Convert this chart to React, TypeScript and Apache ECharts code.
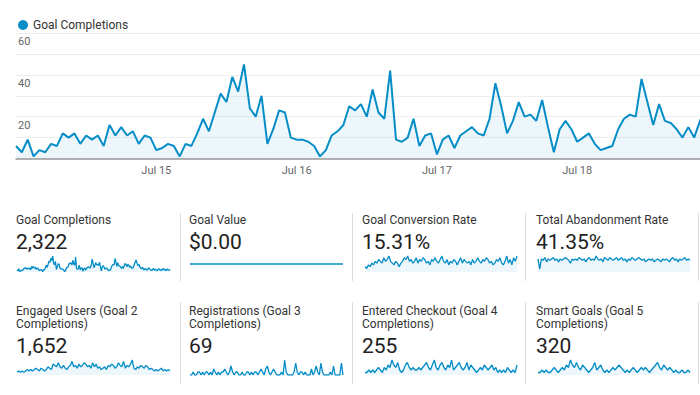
import React, { useEffect, useRef } from "react";
import * as echarts from "echarts";

// ---------- DATA ----------
const days = ["Jul 14", "Jul 15", "Jul 16", "Jul 17", "Jul 18", "Jul 19", "Jul 20"];
const hours = ["00", "01", "02", "03", "04", "05", "06", "07", "08", "09", "10", "11",
  "12", "13", "14", "15", "16", "17", "18", "19", "20", "21", "22", "23"];

// Goal completions per hour (visible part of main chart)
const goalCompletionsA = [6, 3, 9, 1, 4, 3, 7, 6, 12, 10, 12, 7, 11, 9, 11, 6, 16, 11, 15, 11, 13, 7, 11, 10,
  4, 5, 7, 6, 1, 7, 6, 12, 19, 13, 22, 31, 27, 39, 32, 45, 24, 20, 30, 7, 14, 23, 22, 10,
  9, 9, 8, 6, 1, 4, 11, 13, 16, 25];
const goalCompletionsB = [23, 26, 20, 33, 22, 19, 42, 9, 8, 10, 19, 6, 11, 12, 2, 9, 11, 5, 11, 13, 15, 12, 11, 19,
  36, 25, 12, 18, 27, 20, 21, 18, 28, 15, 3, 14, 18, 14, 8, 10, 12, 7, 4, 5, 6, 14, 19, 21,
  20, 38, 27, 16, 26, 18, 17, 14, 10, 15, 10, 18];
// remainder of the period (outside the visible crop, seen in the sparkline)
const goalCompletionsC = [24, 20, 15, 22, 19, 13, 17, 12, 10, 14, 21, 28, 34, 25, 18, 22, 15, 11, 9, 13, 8, 6, 10, 7,
  5, 9, 12, 8, 6, 4, 7, 10, 5, 8, 6, 3, 7, 9, 5, 4, 8, 6, 10, 5, 7, 4, 9, 6, 5, 8];

const yTickLabels = [20, 40, 60];
const xTickDays = ["Jul 15", "Jul 16", "Jul 17", "Jul 18"];

const goalValueSpark = [0, 0, 0, 0, 0, 0, 0, 0, 0, 0, 0, 0, 0, 0, 0, 0, 0, 0, 0, 0];
const conversionSpark = [3, 2, 4, 3, 5, 4, 6, 5, 7, 6, 5, 8, 6, 7, 9, 6, 5, 4, 6, 5, 3, 5, 6, 8, 7, 9, 6, 7, 5, 6,
  8, 5, 7, 6, 8, 7, 5, 6, 4, 7, 6, 8, 6, 5, 7, 9, 6, 5, 7, 4, 6, 5, 7, 6, 4, 6, 8, 5, 7, 6,
  5, 6, 4, 7, 5, 6, 8, 6, 5, 7, 6, 8, 7, 5, 6, 4, 5, 7, 6, 8, 5, 4, 6, 9, 5, 7, 4, 8, 6, 9];
const abandonmentSpark = [9, 2, 9, 8, 10, 7, 9, 8, 9, 10, 8, 9, 7, 9, 8, 9, 10, 9, 8, 6, 9, 8, 9, 8, 10, 9, 8, 9, 7, 9,
  10, 8, 9, 8, 11, 9, 8, 9, 7, 10, 9, 8, 10, 9, 8, 9, 10, 8, 9, 10, 8, 9, 7, 9, 8, 10, 9, 8, 9, 10,
  9, 8, 9, 7, 8, 9, 8, 9, 7, 8, 9, 8, 7, 9, 8, 9, 8, 7, 9, 10, 8, 9, 7, 9, 8, 9, 10, 8, 9, 8];
const engagedSpark = [2, 3, 2, 3, 2, 3, 4, 3, 4, 3, 4, 5, 4, 3, 5, 4, 3, 4, 6, 5, 4, 8, 7, 6, 9, 6, 5, 7, 5, 4,
  6, 7, 10, 6, 7, 5, 8, 6, 7, 9, 8, 6, 7, 5, 9, 6, 8, 5, 6, 4, 5, 6, 4, 7, 6, 8, 7, 5, 6, 9,
  7, 6, 10, 5, 7, 6, 8, 11, 5, 4, 6, 5, 7, 6, 5, 7, 6, 4, 5, 4, 3, 4, 3, 4, 5, 3, 4, 3, 4, 3];
const registrationsSpark = [0, 0, 1, 0, 0, 1, 1, 0, 1, 0, 1, 1, 0, 1, 0, 2, 1, 0, 1, 0, 1, 1, 2, 1, 0, 1, 3, 1, 0, 1,
  1, 0, 0, 1, 0, 0, 1, 1, 0, 1, 0, 1, 1, 0, 1, 2, 1, 0, 2, 3, 1, 0, 1, 2, 1, 0, 0, 0, 1, 0,
  5, 1, 0, 0, 0, 0, 1, 4, 1, 0, 1, 1, 0, 1, 0, 0, 0, 2, 0, 1, 3, 1, 0, 4, 1, 0, 0, 0, 0, 1,
  0, 3, 0, 0, 0, 0, 4, 0];
const checkoutSpark = [1, 1, 2, 1, 2, 1, 2, 3, 2, 1, 3, 2, 4, 3, 6, 4, 3, 5, 2, 1, 2, 4, 5, 3, 2, 3, 2, 2, 3, 2,
  3, 4, 5, 3, 2, 4, 6, 3, 2, 4, 5, 3, 2, 4, 3, 6, 2, 3, 4, 5, 3, 2, 3, 5, 2, 4, 3, 2, 1, 2,
  3, 2, 4, 3, 2, 3, 4, 2, 3, 1, 2, 1, 2, 1, 3, 2, 1, 2, 1, 4];
const smartGoalsSpark = [1, 1, 2, 1, 2, 1, 1, 2, 3, 2, 1, 2, 3, 2, 4, 3, 6, 4, 3, 5, 3, 2, 4, 3, 2, 1, 2, 3, 5, 2,
  3, 4, 2, 1, 2, 1, 2, 3, 2, 3, 4, 3, 2, 1, 2, 1, 2, 3, 2, 1, 2, 3, 2, 3, 2, 1, 2, 3, 4, 5,
  3, 2, 4, 3, 2, 3, 2, 1, 2, 1, 1, 2, 1, 1, 2, 1];

const cardTitles = [
  ["Goal Completions"],
  ["Goal Value"],
  ["Goal Conversion Rate"],
  ["Total Abandonment Rate"],
  ["Engaged Users (Goal 2", "Completions)"],
  ["Registrations (Goal 3", "Completions)"],
  ["Entered Checkout (Goal 4", "Completions)"],
  ["Smart Goals (Goal 5", "Completions)"],
];
const cardValues = ["2,322", "$0.00", "15.31%", "41.35%", "1,652", "69", "255", "320"];

// ---------- LAYOUT / STYLE ----------
const BLUE = "#058DC7";
const FILL = "rgba(5,141,199,0.10)";
const FONT = "Roboto, 'Noto Sans', Arial, sans-serif";
const colText = [16, 189, 362, 536];
const colSpark: [number, number][] = [[17, 170], [190, 343], [365, 517], [538, 690]];
const separatorsX = [180.5, 352.5, 525.5, 698.5];

export default function App() {
  const ref = useRef<HTMLDivElement>(null);

  useEffect(() => {
    if (!ref.current) return;
    const chart = echarts.init(ref.current, undefined, { renderer: "svg" });

    const categories: string[] = [];
    days.forEach((d) => hours.forEach((h) => categories.push(d + " " + h + ":00")));
    const goalCompletions = [...goalCompletionsA, ...goalCompletionsB, ...goalCompletionsC];
    const visibleCount = goalCompletionsA.length + goalCompletionsB.length;

    const sparkData = [
      goalCompletions,
      goalValueSpark,
      conversionSpark,
      abandonmentSpark,
      engagedSpark,
      registrationsSpark,
      checkoutSpark,
      smartGoalsSpark,
    ];

    const grids: any[] = [{ left: 16, width: 684, top: 33, height: 125.5 }];
    const xAxes: any[] = [
      {
        type: "category",
        gridIndex: 0,
        data: categories,
        boundaryGap: false,
        max: visibleCount - 1,
        axisLine: { lineStyle: { color: "#999", width: 1.5 } },
        axisTick: { show: false },
        splitLine: { show: false },
        axisLabel: {
          interval: (i: number, v: string) => xTickDays.includes(v.slice(0, 6)) && v.endsWith("00:00"),
          formatter: (v: string) => v.slice(0, 6),
          color: "#666",
          fontSize: 11,
          fontFamily: FONT,
          margin: 6,
        },
      },
    ];
    const yAxes: any[] = [
      {
        type: "value",
        gridIndex: 0,
        min: 0,
        max: 60,
        interval: 10,
        axisLine: { show: false },
        axisTick: { show: false },
        splitLine: { lineStyle: { color: "#eeeeee", width: 1 } },
        axisLabel: {
          inside: true,
          margin: 2,
          verticalAlign: "top",
          padding: [3, 0, 0, 0],
          color: "#666",
          fontSize: 11,
          fontFamily: FONT,
          formatter: (v: number) => (yTickLabels.includes(v) ? String(v) : ""),
        },
      },
    ];
    const series: any[] = [
      {
        name: "Goal Completions",
        type: "line",
        xAxisIndex: 0,
        yAxisIndex: 0,
        data: goalCompletions,
        symbol: "none",
        lineStyle: { color: BLUE, width: 2 },
        itemStyle: { color: BLUE },
        areaStyle: { color: FILL },
        clip: true,
      },
    ];

    const graphics: any[] = [];

    sparkData.forEach((d, i) => {
      const row = i < 4 ? 0 : 1;
      const col = i % 4;
      const top = row === 0 ? 256 : 360;
      const h = row === 0 ? 16 : 15;
      const [x0, x1] = colSpark[col];
      const gi = i + 1;
      grids.push({ left: x0, width: x1 - x0, top, height: h });
      xAxes.push({
        type: "category",
        gridIndex: gi,
        data: d.map((_, k) => k),
        boundaryGap: false,
        show: false,
      });
      const flat = d.every((v) => v === 0);
      yAxes.push({
        type: "value",
        gridIndex: gi,
        min: flat ? -1 : 0,
        max: flat ? 1 : "dataMax",
        show: false,
        splitLine: { show: false },
      });
      series.push({
        name: "spark" + i,
        type: "line",
        xAxisIndex: gi,
        yAxisIndex: gi,
        data: d,
        symbol: "none",
        lineStyle: { color: BLUE, width: 1.3 },
        areaStyle: flat ? undefined : { color: FILL },
        silent: true,
      });

      // titles and values
      const tx = colText[col];
      const titleY = row === 0 ? 219.5 : 310.5;
      cardTitles[i].forEach((line, li) => {
        graphics.push({
          type: "text",
          x: tx,
          y: titleY + li * 13.5,
          style: {
            text: line,
            fill: "#333",
            font: "12px " + FONT,
            align: "left",
            verticalAlign: "middle",
          },
        });
      });
      graphics.push({
        type: "text",
        x: tx,
        y: row === 0 ? 241.8 : 345.8,
        style: {
          text: cardValues[i],
          fill: "#212121",
          font: "21px " + FONT,
          align: "left",
          verticalAlign: "middle",
        },
      });
    });

    separatorsX.forEach((x) => {
      graphics.push({
        type: "line",
        shape: { x1: x, y1: 213, x2: x, y2: 281 },
        style: { stroke: "#dddddd", lineWidth: 1 },
      });
      graphics.push({
        type: "line",
        shape: { x1: x, y1: 302, x2: x, y2: 384 },
        style: { stroke: "#dddddd", lineWidth: 1 },
      });
    });

    chart.setOption({
      animation: false,
      backgroundColor: "#ffffff",
      textStyle: { fontFamily: FONT },
      legend: {
        data: ["Goal Completions"],
        left: 13,
        top: 14,
        icon: "circle",
        itemWidth: 10,
        itemHeight: 10,
        itemGap: 10,
        selectedMode: false,
        textStyle: { fontSize: 12, color: "#333", fontFamily: FONT },
      },
      grid: grids,
      xAxis: xAxes,
      yAxis: yAxes,
      series,
      graphic: graphics,
    });

    return () => chart.dispose();
  }, []);

  return (
    <div
      ref={ref}
      style={{ position: "fixed", left: 0, top: 0, width: 700, height: 395, background: "#fff" }}
    />
  );
}
